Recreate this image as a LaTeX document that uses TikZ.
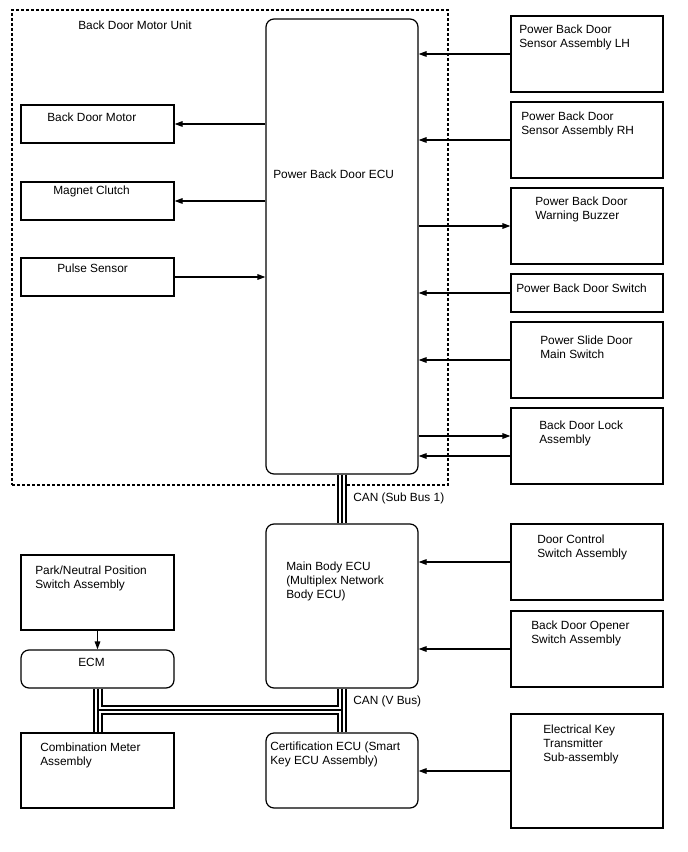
\documentclass[tikz,border=0pt]{standalone}
\usepackage{fontspec}
\setmainfont{Liberation Sans}
\usetikzlibrary{arrows.meta,fit}
\begin{document}
\begin{tikzpicture}[x=0.75pt,y=-0.75pt,
  box/.style={draw, line width=0.9pt, inner sep=0pt},
  rbox/.style={box, rounded corners=6pt},
  unitbox/.style={draw, line width=0.9pt, inner sep=0pt, dash pattern=on 2.25pt off 1.5pt},
  lbl/.style={anchor=north west, inner sep=0pt, align=left, font=\fontsize{8.9}{10.5}\selectfont},
  arr/.style={line width=0.9pt, -{Triangle[length=6pt,width=4.2pt]}},
  busA/.style={line width=7.5pt, black},
  busB/.style={line width=4.5pt, white},
  busC/.style={line width=1.5pt, black}
]
\useasboundingbox (0,0) rectangle (688,852);
% unit frame
\node[unitbox, fit={(12,10) (448,485)}] (unit) {};
\node[lbl] (tunit) at (78,20.5) {Back Door Motor Unit};
% ECU
\node[rbox, fit={(266,19) (418,474)}] (ecu) {};
\node[lbl] (tecu) at (273,169.5) {Power Back Door ECU};
% left boxes
\node[box, fit={(21,105) (174,143)}] (motor) {};
\node[lbl] (tmotor) at (47,112.5) {Back Door Motor};
\node[box, fit={(21,182) (174,220)}] (clutch) {};
\node[lbl] (tclutch) at (53,185.5) {Magnet Clutch};
\node[box, fit={(21,258) (174,296)}] (pulse) {};
\node[lbl] (tpulse) at (57,263.5) {Pulse Sensor};
% right boxes
\node[box, fit={(511,16) (663,92)}] (lh) {};
\node[lbl] (tlh) at (519,24.5) {Power Back Door\\Sensor Assembly LH};
\node[box, fit={(511,102) (663,178)}] (rh) {};
\node[lbl] (trh) at (521,111.5) {Power Back Door\\Sensor Assembly RH};
\node[box, fit={(511,188) (663,264)}] (buzz) {};
\node[lbl] (tbuzz) at (535,196.5) {Power Back Door\\Warning Buzzer};
\node[box, fit={(511,274) (663,312)}] (sw) {};
\node[lbl] (tsw) at (516,283.5) {Power Back Door Switch};
\node[box, fit={(511,322) (663,398)}] (slide) {};
\node[lbl] (tslide) at (540,335.5) {Power Slide Door\\Main Switch};
\node[box, fit={(511,408) (663,484)}] (lock) {};
\node[lbl] (tlock) at (539,420.5) {Back Door Lock\\Assembly};
% main body
\node[rbox, fit={(266,524) (418,688)}] (mb) {};
\node[lbl] (tmb) at (286,561.5) {Main Body ECU\\(Multiplex Network\\Body ECU)};
\node[box, fit={(511,524) (663,600)}] (door) {};
\node[lbl] (tdoor) at (537,534.5) {Door Control\\Switch Assembly};
\node[box, fit={(511,611) (663,687)}] (opener) {};
\node[lbl] (topener) at (531,620.5) {Back Door Opener\\Switch Assembly};
% left lower
\node[box, fit={(21,555) (174,630)}] (park) {};
\node[lbl] (tpark) at (35,565.5) {Park/Neutral Position\\Switch Assembly};
\node[rbox, fit={(21,650) (174,688)}] (ecm) {};
\node[lbl] (tecm) at (78,657.5) {ECM};
\node[box, fit={(21,733) (174,808)}] (cm) {};
\node[lbl] (tcm) at (40,742.5) {Combination Meter\\Assembly};
\node[rbox, fit={(266,733) (418,808)}] (cert) {};
\node[lbl] (tcert) at (270,741.5) {Certification ECU (Smart\\Key ECU Assembly)};
\node[box, fit={(511,714) (663,828)}] (key) {};
\node[lbl] (tkey) at (543,724.5) {Electrical Key\\Transmitter\\Sub-assembly};
% bus labels
\node[lbl] (tsub) at (353,492.5) {CAN (Sub Bus 1)};
\node[lbl] (tv) at (353,695.5) {CAN (V Bus)};
% arrows left
\draw[arr] (motor.east -| ecu.west) -- (motor.east);
\draw[arr] (clutch.east -| ecu.west) -- (clutch.east);
\draw[arr] (pulse.east) -- (pulse.east -| ecu.west);
% arrows right
\draw[arr] (lh.west) -- (lh.west -| ecu.east);
\draw[arr] (rh.west) -- (rh.west -| ecu.east);
\draw[arr] (buzz.west -| ecu.east) -- (buzz.west);
\draw[arr] (sw.west) -- (sw.west -| ecu.east);
\draw[arr] (slide.west) -- (slide.west -| ecu.east);
\draw[arr] ([yshift=7.5pt]lock.west -| ecu.east) -- ([yshift=7.5pt]lock.west);
\draw[arr] ([yshift=-7.5pt]lock.west) -- ([yshift=-7.5pt]lock.west -| ecu.east);
\draw[arr] (door.west) -- (door.west -| mb.east);
\draw[arr] (opener.west) -- (opener.west -| mb.east);
\draw[arr] (key.west) -- (key.west -| cert.east);
\draw[arr] (park.south) -- (ecm.north);
% buses
\coordinate (hb) at (0,710);
\foreach \s in {busA,busB,busC}{
  \draw[\s] (ecu.south) -- (mb.north);
  \draw[\s] (ecm.south) -- (cm.north) (mb.south) -- (cert.north)
     (ecm.south |- hb) -- (mb.south |- hb);
}
\end{tikzpicture}
\end{document}
